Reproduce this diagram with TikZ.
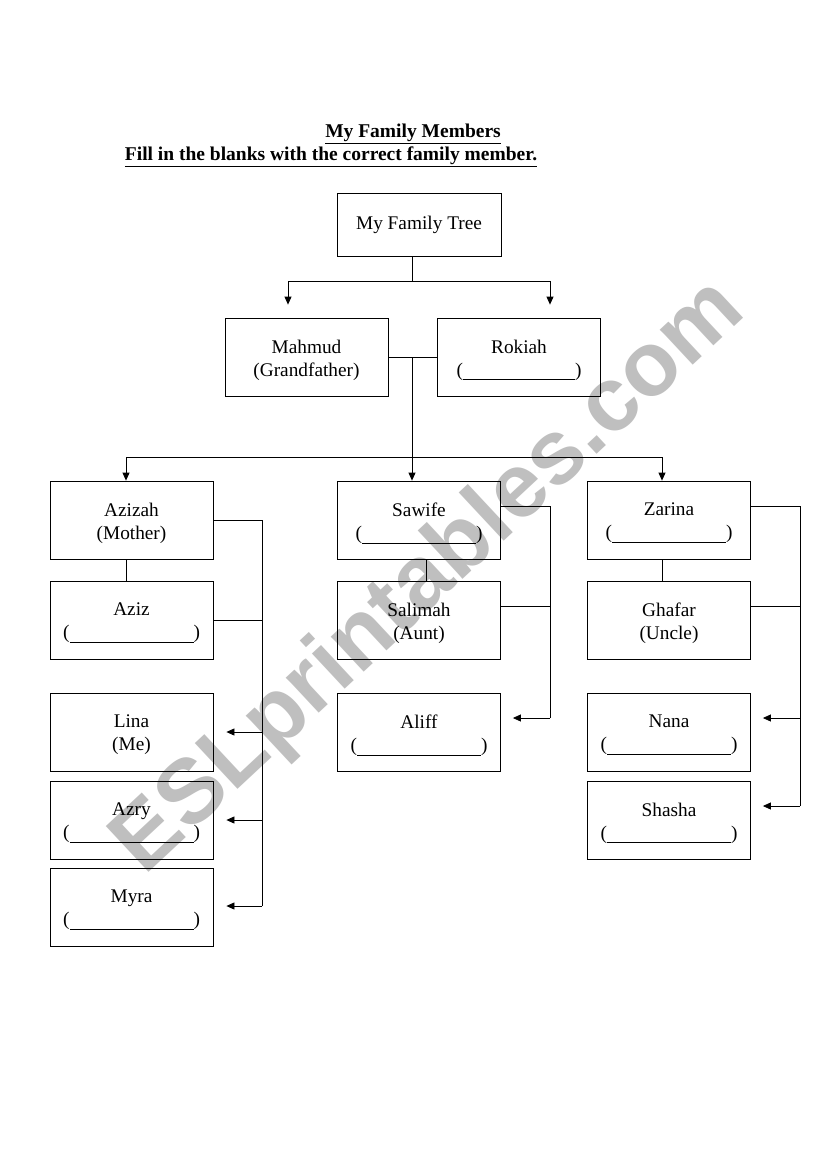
\documentclass[tikz,border=0pt]{standalone}
\usepackage{fontspec}
\setmainfont{Liberation Serif}
\newfontfamily\wmfont{Liberation Sans}
\usetikzlibrary{arrows.meta}
\newcommand\myblank[1]{(\rule[-4pt]{#1pt}{0.7pt})}
\begin{document}
\begin{tikzpicture}[x=1pt,y=-1pt,
  txt/.style={align=center, inner sep=0pt, font=\fontsize{19.3}{23}\selectfont},
  box/.style={draw, line width=0.8pt, minimum width=163pt, minimum height=78pt, inner sep=0pt,
    label={[txt, yshift=-3pt]center:{#1}}},
  conn/.style={line width=0.8pt},
  arr/.style={conn, -{Triangle[length=8pt,width=7pt]}},
  title/.style={font=\bfseries\fontsize{19.5}{22}\selectfont}]
\useasboundingbox[fill=white] (0,0) rectangle (821,1169);
% watermark
\node[rotate=43, text=black!25, font=\wmfont\bfseries\fontsize{91}{91}\selectfont] (wm) at (430,578) {ESLprintables.com};
% titles
\node[title] (t1) at (413,134) {\underline{My Family Members}};
\node[title] (t2) at (331,157) {\underline{Fill in the blanks with the correct family member.}};
% boxes
\node[draw, line width=0.8pt, minimum width=164pt, minimum height=63pt, txt] (tree) at (419,224.5) {My Family Tree};
\node[box={Mahmud\\(Grandfather)}] (mahmud) at (306.5,357) {};
\node[box={Rokiah\\\myblank{112}}] (rokiah) at (519,357) {};
\node[box={Azizah\\(Mother)}] (azizah) at (131.5,520) {};
\node[box={Aziz\\\myblank{124}}] (aziz) at (131.5,620) {};
\node[box={Lina\\(Me)}] (lina) at (131.5,732) {};
\node[box={Azry\\\myblank{124}}] (azry) at (131.5,820) {};
\node[box={Myra\\\myblank{124}}] (myra) at (131.5,907) {};
\node[box={Sawife\\\myblank{114}}] (sawife) at (419,520) {};
\node[box={Salimah\\(Aunt)}] (salimah) at (419,620) {};
\node[box={Aliff\\\myblank{124}}] (aliff) at (419,732) {};
\node[box={Zarina\\\myblank{114}}] (zarina) at (669,520) {};
\node[box={Ghafar\\(Uncle)}] (ghafar) at (669,620) {};
\node[box={Nana\\\myblank{124}}] (nana) at (669,732) {};
\node[box={Shasha\\\myblank{124}}] (shasha) at (669,820) {};
% connectors
\coordinate (j1) at (412,281);
\draw[conn] (tree.south -| j1) -- (j1);
\draw[arr] (j1) -| ([xshift=-18.5pt,yshift=13pt]mahmud.north);
\draw[arr] (j1) -| ([xshift=31pt,yshift=13pt]rokiah.north);
\draw[conn] (mahmud.east) -- (rokiah.west);
\coordinate (j2) at (412,457);
\draw[conn] (mahmud.east -| j2) -- (j2);
\draw[arr] (j2) -| ([xshift=-5.5pt]azizah.north);
\draw[arr] (j2) -| ([xshift=-7pt]zarina.north);
\draw[arr] (j2) -- (sawife.north -| j2);
\draw[conn] ([xshift=-5.5pt]azizah.south) -- ([xshift=-5.5pt]aziz.north);
\draw[conn] ([xshift=7pt]sawife.south) -- ([xshift=7pt]salimah.north);
\draw[conn] ([xshift=-7pt]zarina.south) -- ([xshift=-7pt]ghafar.north);
% left bracket
\coordinate (b1) at (262,906);
\draw[conn] (azizah.east) -| (b1);
\draw[conn] (aziz.east) -- (aziz.east -| b1);
\draw[arr] (lina.east -| b1) -- ([xshift=13pt]lina.east);
\draw[arr] (azry.east -| b1) -- ([xshift=13pt]azry.east);
\draw[arr] (b1) -- ([xshift=13pt]myra.east |- b1);
% middle bracket
\coordinate (b2) at (550,718);
\draw[conn] ([yshift=14pt]sawife.east) -| (b2);
\draw[conn] ([yshift=14pt]salimah.east) -- ([yshift=14pt]salimah.east -| b2);
\draw[arr] (b2) -- ([xshift=12pt]aliff.east |- b2);
% right bracket
\coordinate (b3) at (800,806);
\draw[conn] ([yshift=14pt]zarina.east) -| (b3);
\draw[conn] ([yshift=14pt]ghafar.east) -- ([yshift=14pt]ghafar.east -| b3);
\draw[arr] ([yshift=14pt]nana.east -| b3) -- ([xshift=12pt,yshift=14pt]nana.east);
\draw[arr] (b3) -- ([xshift=12pt]shasha.east |- b3);
\end{tikzpicture}
\end{document}
